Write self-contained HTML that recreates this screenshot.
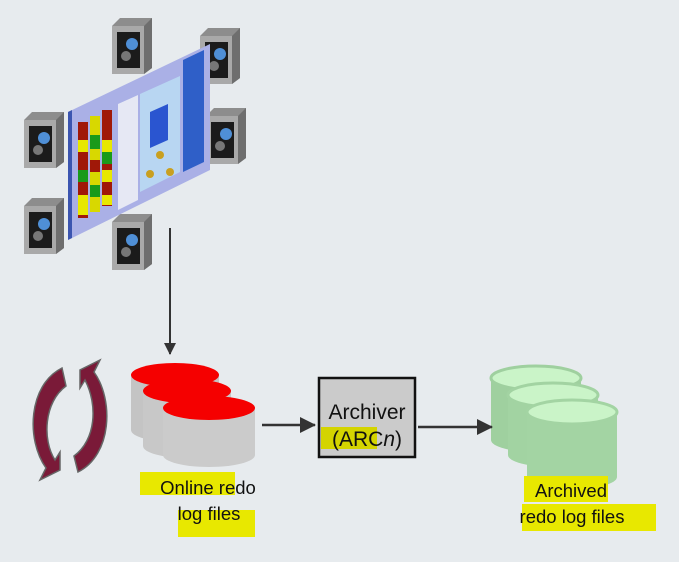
<!DOCTYPE html>
<html><head><style>
html,body{margin:0;padding:0;background:#e7ebee;}
svg{display:block}
text{font-family:"Liberation Sans",sans-serif;}
</style></head><body>
<svg width="679" height="562" viewBox="0 0 679 562">
<defs>
<g id="srv">
<polygon points="0,8 8,0 40,0 40,50 32,56 0,56" fill="#8d8d8d"/>
<polygon points="0,8 32,8 32,56 0,56" fill="#a9a9a9"/>
<polygon points="32,8 40,0 40,50 32,56" fill="#6e6e6e"/>
<rect x="5" y="14" width="23" height="36" fill="#1b1b1b"/>
<circle cx="20" cy="26" r="6" fill="#4f8fd6"/>
<circle cx="14" cy="38" r="5" fill="#777"/>
</g>
<marker id="ah" markerWidth="16" markerHeight="16" refX="15" refY="8" orient="auto" markerUnits="userSpaceOnUse">
<path d="M0,0 L16,8 L0,16 z" fill="#333"/></marker>
<marker id="ah2" markerWidth="12" markerHeight="12" refX="11" refY="6" orient="auto" markerUnits="userSpaceOnUse">
<path d="M0,0 L12,6 L0,12 z" fill="#333"/></marker>
</defs>

<use href="#srv" x="112" y="18"/>
<use href="#srv" x="200" y="28"/>
<use href="#srv" x="24" y="112"/>
<use href="#srv" x="206" y="108"/>
<use href="#srv" x="24" y="198"/>
<use href="#srv" x="112" y="214"/>

<polygon points="68,112 210,44 210,170 68,240" fill="#aab0e6"/>
<polygon points="68,112 72,110 72,238 68,240" fill="#3b55b0"/>
<polygon points="183,60 204,50 204,162 183,172" fill="#2f5fc8"/>
<polygon points="140,94 180,76 180,172 140,192" fill="#b8d6f2"/>
<polygon points="150,112 168,104 168,140 150,148" fill="#2a55d0"/>
<polygon points="118,104 138,95 138,200 118,210" fill="#e6e8f4"/>
<g>
<rect x="78" y="122" width="10" height="96" fill="#a01808"/>
<rect x="90" y="116" width="10" height="96" fill="#d8d800"/>
<rect x="102" y="110" width="10" height="96" fill="#a01808"/>
<rect x="78" y="140" width="10" height="12" fill="#e8e800"/>
<rect x="78" y="170" width="10" height="12" fill="#1a9a1a"/>
<rect x="78" y="195" width="10" height="20" fill="#e8e800"/>
<rect x="90" y="135" width="10" height="14" fill="#1a9a1a"/>
<rect x="90" y="160" width="10" height="12" fill="#a01808"/>
<rect x="90" y="185" width="10" height="12" fill="#1a9a1a"/>
<rect x="102" y="140" width="10" height="14" fill="#e8e800"/>
<rect x="102" y="152" width="10" height="12" fill="#1a9a1a"/>
<rect x="102" y="170" width="10" height="12" fill="#e8e800"/>
<rect x="102" y="195" width="10" height="10" fill="#e8e800"/>
</g>
<circle cx="160" cy="155" r="4" fill="#c9a020"/>
<circle cx="150" cy="174" r="4" fill="#c9a020"/>
<circle cx="170" cy="172" r="4" fill="#c9a020"/>

<line x1="170" y1="228" x2="170" y2="354" stroke="#333" stroke-width="2" marker-end="url(#ah2)"/>

<path d="M62,368 C28,385 26,440 46,468 L40,480 L60,470 L60,452 L55,460 C42,440 44,402 66,386 Z" fill="#7a1a38" stroke="#666" stroke-width="1.5"/>
<path d="M78,472 C112,455 114,400 94,372 L100,360 L80,370 L80,388 L85,380 C98,405 96,440 74,456 Z" fill="#7a1a38" stroke="#666" stroke-width="1.5"/>

<g>
<path d="M131,375 v55 a44,12 0 0 0 88,0 v-55" fill="#c4c4c4"/>
<ellipse cx="175" cy="375" rx="44" ry="12" fill="#f50000"/>
<path d="M143,391 v55 a44,12 0 0 0 88,0 v-55" fill="#c8c8c8"/>
<ellipse cx="187" cy="391" rx="44" ry="12" fill="#f50000"/>
<path d="M163,408 v47 a46,12 0 0 0 92,0 v-47" fill="#cbcbcb"/>
<ellipse cx="209" cy="408" rx="46" ry="12" fill="#f50000"/>
</g>

<g>
<path d="M491,378 v62 a45,12 0 0 0 90,0 v-62" fill="#9fd09f"/>
<ellipse cx="536" cy="378" rx="45" ry="12" fill="#caf4c8" stroke="#9fd09f" stroke-width="3"/>
<path d="M508,395 v60 a45,12 0 0 0 90,0 v-60" fill="#a2d3a2"/>
<ellipse cx="553" cy="395" rx="45" ry="12" fill="#caf4c8" stroke="#a2d3a2" stroke-width="3"/>
<path d="M527,412 v65 a45,12 0 0 0 90,0 v-65" fill="#a3d4a3"/>
<ellipse cx="572" cy="412" rx="45" ry="12" fill="#caf4c8" stroke="#a3d4a3" stroke-width="3"/>
</g>

<line x1="262" y1="425" x2="315" y2="425" stroke="#333" stroke-width="2.5" marker-end="url(#ah)"/>
<line x1="418" y1="427" x2="492" y2="427" stroke="#333" stroke-width="2.5" marker-end="url(#ah)"/>

<rect x="319" y="378" width="96" height="79" fill="#cbcbcb" stroke="#111" stroke-width="2.5"/>
<rect x="321" y="427" width="56" height="22" fill="#d4d400"/>
<text x="367" y="419" font-size="21" text-anchor="middle" fill="#111">Archiver</text>
<text x="367" y="446" font-size="21" text-anchor="middle" fill="#111">(ARC<tspan font-style="italic">n</tspan>)</text>

<rect x="140" y="472" width="95" height="23" fill="#e8e800"/>
<rect x="178" y="510" width="77" height="27" fill="#e8e800"/>
<rect x="524" y="476" width="84" height="26" fill="#e8e800"/>
<rect x="522" y="504" width="134" height="27" fill="#e8e800"/>
<text x="208" y="494" font-size="18.5" text-anchor="middle" fill="#111">Online redo</text>
<text x="209" y="520" font-size="18.5" text-anchor="middle" fill="#111">log files</text>
<text x="571" y="497" font-size="18.5" text-anchor="middle" fill="#111">Archived</text>
<text x="572" y="523" font-size="18.5" text-anchor="middle" fill="#111">redo log files</text>
</svg>
</body></html>
